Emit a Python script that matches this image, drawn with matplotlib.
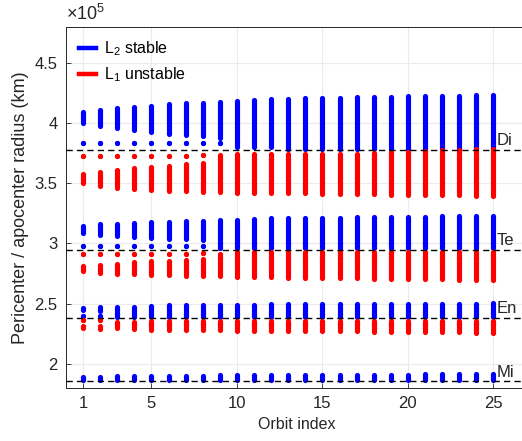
import matplotlib
matplotlib.use('Agg')
import matplotlib.pyplot as plt
from matplotlib.lines import Line2D
import numpy as np

plt.rcParams['font.family'] = ['Liberation Sans', 'DejaVu Sans']
plt.rcParams['mathtext.fontset'] = 'custom'
plt.rcParams['mathtext.rm'] = 'Liberation Sans'
plt.rcParams['mathtext.it'] = 'Liberation Sans:italic'

# orbit index
orbit = list(range(1, 26))

# moons: name and orbital radius (x1e5 km)
moon_names = ['Mi', 'En', 'Te', 'Di']
moon_radius = [1.85539, 2.37948, 2.94619, 3.77396]

# Dione, L2 stable (blue)
di_l2_apo_max = [4.087, 4.107, 4.121, 4.132, 4.143, 4.154, 4.162, 4.168, 4.176, 4.185, 4.190, 4.196, 4.198,
                 4.204, 4.207, 4.210, 4.212, 4.215, 4.218, 4.221, 4.223, 4.223, 4.227, 4.229, 4.232]
di_l2_apo_min = [3.999, 3.977, 3.957, 3.940, 3.926, 3.910, 3.899, 3.890, 3.875, 3.84, 3.84, 3.84, 3.84,
                 3.84, 3.84, 3.84, 3.84, 3.84, 3.84, 3.84, 3.84, 3.84, 3.84, 3.84, 3.84]
di_l2_peri_max = [3.831, 3.831, 3.831, 3.831, 3.831, 3.831, 3.831, 3.831, 3.835, 3.84, 3.84, 3.84, 3.84,
                  3.84, 3.84, 3.84, 3.84, 3.84, 3.84, 3.84, 3.84, 3.84, 3.84, 3.84, 3.84]
di_l2_peri_min = [3.831, 3.831, 3.831, 3.831, 3.831, 3.831, 3.831, 3.831, 3.835, 3.80, 3.80, 3.80, 3.78,
                  3.78, 3.78, 3.78, 3.78, 3.78, 3.78, 3.78, 3.78, 3.78, 3.78, 3.78, 3.78]
# Dione, L1 unstable (red)
di_l1_apo_max = [3.725, 3.725, 3.725, 3.725, 3.725, 3.725, 3.725, 3.733, 3.735, 3.745, 3.745, 3.745, 3.745,
                 3.745, 3.745, 3.745, 3.746, 3.754, 3.760, 3.762, 3.768, 3.773, 3.776, 3.782, 3.787]
di_l1_apo_min = [3.725, 3.725, 3.725, 3.725, 3.725, 3.725, 3.725, 3.733, 3.70, 3.70, 3.70, 3.70, 3.70,
                 3.70, 3.70, 3.70, 3.70, 3.70, 3.70, 3.70, 3.70, 3.70, 3.70, 3.70, 3.70]
di_l1_peri_max = [3.573, 3.593, 3.612, 3.623, 3.635, 3.646, 3.657, 3.668, 3.70, 3.70, 3.70, 3.70, 3.70,
                  3.70, 3.70, 3.70, 3.70, 3.70, 3.70, 3.70, 3.70, 3.70, 3.70, 3.70, 3.70]
di_l1_peri_min = [3.499, 3.477, 3.460, 3.454, 3.443, 3.438, 3.432, 3.429, 3.427, 3.421, 3.415, 3.415, 3.415,
                  3.415, 3.413, 3.410, 3.407, 3.407, 3.404, 3.404, 3.402, 3.402, 3.399, 3.396, 3.393]

# Tethys, L2 stable (blue)
te_l2_apo_max = [3.143, 3.157, 3.165, 3.173, 3.179, 3.181, 3.185, 3.190, 3.196, 3.198, 3.204, 3.207, 3.208,
                 3.210, 3.211, 3.212, 3.215, 3.216, 3.218, 3.221, 3.223, 3.226, 3.227, 3.229, 3.231]
te_l2_apo_min = [3.088, 3.071, 3.059, 3.050, 3.042, 3.038, 3.033, 3.029, 3.00, 3.00, 3.00, 3.00, 3.00,
                 3.00, 3.00, 3.00, 3.00, 3.00, 3.00, 3.00, 3.00, 3.00, 3.00, 3.00, 3.00]
te_l2_peri_max = [2.982, 2.982, 2.982, 2.982, 2.982, 2.982, 2.982, 2.982, 3.00, 3.00, 3.00, 3.00, 3.00,
                  3.00, 3.00, 3.00, 3.00, 3.00, 3.00, 3.00, 3.00, 3.00, 3.00, 3.00, 3.00]
te_l2_peri_min = [2.982, 2.982, 2.982, 2.982, 2.982, 2.982, 2.982, 2.982, 2.965, 2.965, 2.965, 2.965, 2.965,
                  2.965, 2.965, 2.965, 2.965, 2.965, 2.965, 2.965, 2.965, 2.965, 2.965, 2.965, 2.965]
# Tethys, L1 unstable (red)
te_l1_apo_max = [2.914, 2.914, 2.914, 2.914, 2.914, 2.914, 2.914, 2.922, 2.915, 2.925, 2.93, 2.93, 2.93,
                 2.93, 2.93, 2.93, 2.93, 2.93, 2.93, 2.93, 2.93, 2.93, 2.93, 2.93, 2.93]
te_l1_apo_min = [2.914, 2.914, 2.914, 2.914, 2.914, 2.914, 2.914, 2.922, 2.88, 2.88, 2.88, 2.88, 2.88,
                 2.88, 2.88, 2.88, 2.88, 2.88, 2.88, 2.88, 2.88, 2.88, 2.88, 2.88, 2.88]
te_l1_peri_max = [2.810, 2.823, 2.832, 2.843, 2.851, 2.857, 2.865, 2.873, 2.88, 2.88, 2.88, 2.88, 2.88,
                  2.88, 2.88, 2.88, 2.88, 2.88, 2.88, 2.88, 2.88, 2.88, 2.88, 2.88, 2.88]
te_l1_peri_min = [2.769, 2.754, 2.746, 2.743, 2.740, 2.735, 2.732, 2.732, 2.727, 2.724, 2.721, 2.718, 2.717,
                  2.716, 2.715, 2.713, 2.710, 2.707, 2.707, 2.704, 2.702, 2.702, 2.699, 2.696, 2.693]

# Enceladus, L2 stable (blue)
en_l2_apo_max = [2.462, 2.471, 2.476, 2.476, 2.481, 2.485, 2.485, 2.487, 2.487, 2.490, 2.490, 2.493, 2.493,
                 2.494, 2.495, 2.496, 2.496, 2.497, 2.498, 2.499, 2.499, 2.500, 2.500, 2.501, 2.502]
en_l2_apo_min = [2.449, 2.443, 2.41, 2.41, 2.41, 2.41, 2.41, 2.41, 2.41, 2.41, 2.41, 2.41, 2.41,
                 2.41, 2.41, 2.41, 2.41, 2.41, 2.41, 2.41, 2.41, 2.41, 2.41, 2.41, 2.41]
en_l2_peri_max = [2.396, 2.396, 2.41, 2.41, 2.41, 2.41, 2.41, 2.41, 2.41, 2.41, 2.41, 2.41, 2.41,
                  2.41, 2.41, 2.41, 2.41, 2.41, 2.41, 2.41, 2.41, 2.41, 2.41, 2.41, 2.41]
en_l2_peri_min = [2.396, 2.396, 2.39, 2.39, 2.39, 2.39, 2.39, 2.39, 2.39, 2.39, 2.39, 2.39, 2.39,
                  2.39, 2.39, 2.39, 2.39, 2.39, 2.39, 2.39, 2.39, 2.39, 2.39, 2.39, 2.39]
# Enceladus, L1 unstable (red)
en_l1_apo_max = [2.361, 2.361, 2.351, 2.351, 2.357, 2.357, 2.357, 2.357, 2.357, 2.357, 2.357, 2.357, 2.357,
                 2.357, 2.357, 2.357, 2.357, 2.357, 2.357, 2.357, 2.357, 2.357, 2.357, 2.357, 2.357]
en_l1_apo_min = [2.361, 2.361, 2.33, 2.33, 2.33, 2.33, 2.33, 2.33, 2.33, 2.33, 2.33, 2.33, 2.33,
                 2.33, 2.33, 2.33, 2.33, 2.33, 2.33, 2.33, 2.33, 2.33, 2.33, 2.33, 2.33]
en_l1_peri_max = [2.312, 2.312, 2.33, 2.33, 2.33, 2.33, 2.33, 2.33, 2.33, 2.33, 2.33, 2.33, 2.33,
                  2.33, 2.33, 2.33, 2.33, 2.33, 2.33, 2.33, 2.33, 2.33, 2.33, 2.33, 2.33]
en_l1_peri_min = [2.299, 2.293, 2.296, 2.288, 2.282, 2.282, 2.282, 2.279, 2.279, 2.277, 2.277, 2.276, 2.275,
                  2.273, 2.272, 2.271, 2.269, 2.268, 2.267, 2.264, 2.263, 2.262, 2.261, 2.260, 2.258]

# Mimas, L2 stable (blue)
mi_l2_max = [1.893, 1.895, 1.897, 1.898, 1.900, 1.901, 1.902, 1.903, 1.904, 1.905, 1.906, 1.907, 1.908,
             1.909, 1.909, 1.910, 1.910, 1.911, 1.912, 1.912, 1.913, 1.913, 1.914, 1.914, 1.915]
mi_l2_min = [1.868, 1.868, 1.868, 1.868, 1.868, 1.868, 1.868, 1.868, 1.868, 1.868, 1.868, 1.868, 1.868,
             1.868, 1.868, 1.868, 1.868, 1.868, 1.868, 1.868, 1.868, 1.868, 1.868, 1.868, 1.868]

blue_ranges = [(mi_l2_min, mi_l2_max),
               (en_l2_peri_min, en_l2_peri_max), (en_l2_apo_min, en_l2_apo_max),
               (te_l2_peri_min, te_l2_peri_max), (te_l2_apo_min, te_l2_apo_max),
               (di_l2_peri_min, di_l2_peri_max), (di_l2_apo_min, di_l2_apo_max)]
red_ranges = [(en_l1_apo_min, en_l1_apo_max), (en_l1_peri_min, en_l1_peri_max),
              (te_l1_apo_min, te_l1_apo_max), (te_l1_peri_min, te_l1_peri_max),
              (di_l1_apo_min, di_l1_apo_max), (di_l1_peri_min, di_l1_peri_max)]

fig = plt.figure(figsize=(5.22, 4.41), dpi=100)
ax = fig.add_axes([66 / 522, 53 / 441, 461.6 / 522, 361.5 / 441])

lw = 3.7


def draw_range(lo, hi, color, z):
    # thick bar with round ends (the ends are dots so zero-length ranges still show)
    ax.vlines(orbit, lo, hi, colors=color, linewidth=lw, zorder=z)
    ax.scatter(orbit, lo, s=lw ** 2, color=color, linewidths=0, zorder=z)
    ax.scatter(orbit, hi, s=lw ** 2, color=color, linewidths=0, zorder=z)


for lo, hi in blue_ranges:
    draw_range(lo, hi, '#0000ff', 3)
for lo, hi in red_ranges:
    draw_range(lo, hi, '#ff0000', 4)

for name, r in zip(moon_names, moon_radius):
    ax.axhline(r, color='black', linestyle=(0, (4.5, 3)), linewidth=1.0, zorder=5)
    ax.text(25.2, r + 0.039, name, fontsize=12, color='#262626', va='baseline', ha='left', zorder=6)

ax.set_xlim(0, 27)
ax.set_ylim(1.8, 4.8)
ax.set_xticks([1, 5, 10, 15, 20, 25])
ax.set_yticks([2, 2.5, 3, 3.5, 4, 4.5])
ax.set_yticklabels(['2', '2.5', '3', '3.5', '4', '4.5'])
ax.grid(True, color='#ebebeb', linewidth=0.8, zorder=0)
ax.set_axisbelow(True)
ax.tick_params(direction='in', length=3.5, width=0.6, colors='#262626', labelsize=12, pad=6)
for s in ax.spines.values():
    s.set_color('#262626')
    s.set_linewidth(0.7)

ax.set_xlabel('Orbit index', fontsize=11.5, color='#262626', labelpad=4)
ax.set_ylabel('Pericenter / apocenter radius (km)', fontsize=13, color='#262626', labelpad=4)
ax.text(0.0, 1.006, r'$\times10^5$', transform=ax.transAxes, fontsize=13, color='#262626',
        ha='left', va='bottom')

handles = [Line2D([], [], color='#0000ff', linewidth=3.2),
           Line2D([], [], color='#ff0000', linewidth=3.2)]
ax.legend(handles, ['L$_2$ stable', 'L$_1$ unstable'], loc='upper left', bbox_to_anchor=(0.0, 1.0),
          frameon=False, fontsize=11.5, handlelength=1.1, handletextpad=0.45, labelspacing=0.45,
          borderaxespad=0.4)

plt.savefig('out.png', dpi=100)
